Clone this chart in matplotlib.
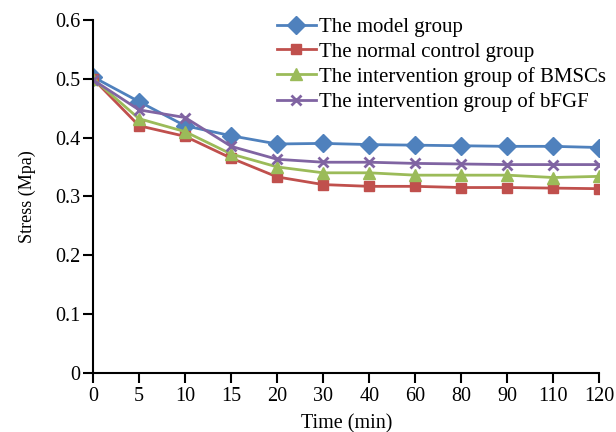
import numpy as np
from matplotlib import pyplot as plt

plt.rcParams['font.family'] = 'Liberation Serif'

times = ["0", "5", "10", "15", "20", "30", "40", "60", "80", "90", "110", "120"]
model = [0.503, 0.461, 0.420, 0.403, 0.389, 0.390, 0.388, 0.387, 0.386, 0.385, 0.385, 0.383]
normal = [0.500, 0.420, 0.402, 0.365, 0.333, 0.320, 0.317, 0.317, 0.315, 0.315, 0.314, 0.313]
bmscs = [0.500, 0.432, 0.410, 0.372, 0.350, 0.340, 0.340, 0.336, 0.336, 0.336, 0.332, 0.334]
bfgf = [0.498, 0.447, 0.434, 0.385, 0.363, 0.358, 0.358, 0.356, 0.355, 0.354, 0.354, 0.354]

labels = ["The model group", "The normal control group",
          "The intervention group of BMSCs", "The intervention group of bFGF"]

fig = plt.figure(figsize=(6.16, 4.32), dpi=100)
ax = fig.add_axes([0.151, 0.137, 0.822, 0.817])

x = np.arange(len(times))
ax.plot(x, model, color='#4F81BD', marker='D', markersize=9, lw=2, label=labels[0])
ax.plot(x, normal, color='#C0504D', marker='s', markersize=7, lw=2, label=labels[1])
ax.plot(x, bmscs, color='#9BBB59', marker='^', markersize=9, lw=2, label=labels[2])
ax.plot(x, bfgf, color='#8064A2', marker='x', markersize=7, mew=2, lw=2, label=labels[3])

ax.set_xlim(0, len(times) - 1)
ax.set_ylim(0, 0.6)
ax.set_xticks(x)
ax.set_xticklabels(times)
yt = np.arange(0, 0.61, 0.1)
ax.set_yticks(yt)
ax.set_yticklabels(["0"] + ["%.1f" % v for v in yt[1:]])

for s in ['top', 'right']:
    ax.spines[s].set_visible(False)
for s in ['left', 'bottom']:
    ax.spines[s].set_linewidth(1.5)
ax.tick_params(direction='out', length=7, width=1.5, labelsize=14.5, pad=2)
ax.tick_params(axis='x', pad=3)
ax.set_xlabel("Time (min)", fontsize=14.5, labelpad=6)
ax.set_ylabel("Stress (Mpa)", fontsize=13, labelpad=14)

ax.legend(loc='upper left', bbox_to_anchor=(0.449, 0.96), bbox_transform=fig.transFigure,
          frameon=False, fontsize=15, handlelength=1.9, handletextpad=0.15,
          labelspacing=0.25, borderaxespad=0, borderpad=0)

plt.savefig("out.png", dpi=100)
